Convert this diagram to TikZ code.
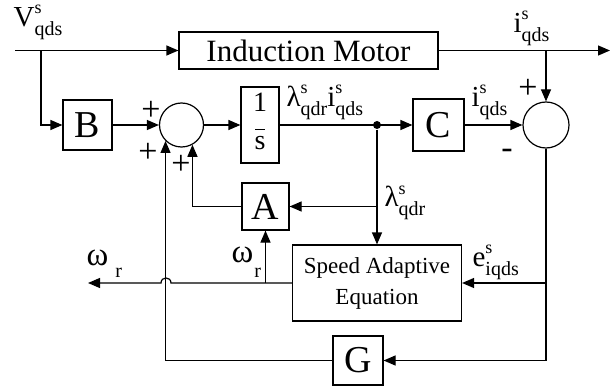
\documentclass[tikz,border=0pt]{standalone}
\usepackage{fontspec}
\setmainfont{Liberation Serif}
\usetikzlibrary{arrows.meta}
\newcommand\supfnt{\fontsize{18}{20}\selectfont}
\newcommand\subfnt{\fontsize{20}{22}\selectfont}
\newcommand\sv[3]{#1\rlap{\raisebox{13pt}{\supfnt #2}}\raisebox{-9pt}{\subfnt #3}}
\begin{document}
\begin{tikzpicture}[x=1pt,y=-1pt,
  line width=1.2pt,
  arr/.style={-{Triangle[length=12pt,width=10pt]}},
  blk/.style={draw,rectangle,inner sep=0pt,font=\fontsize{38}{40}\selectfont},
  sumc/.style={draw,circle,minimum size=44pt,inner sep=0pt},
  lbl/.style={inner sep=0pt,font=\fontsize{29}{32}\selectfont},
  wlbl/.style={inner sep=0pt,font=\fontsize{33}{36}\selectfont},
  sgn/.style={inner sep=0pt,font=\fontsize{34}{36}\selectfont},
  dot/.style={circle,fill,minimum size=8pt,inner sep=0pt}]
\useasboundingbox (0,0) rectangle (610,390);
% blocks
\node[blk,minimum width=259pt,minimum height=37pt,font=\fontsize{31}{34}\selectfont] (motor) at (308.5,50.5) {Induction Motor};
\node[blk,minimum width=49pt,minimum height=50pt] (B) at (87.5,125) {B};
\node[sumc] (sum1) at (181.5,125) {};
\node[blk,minimum width=38pt,minimum height=76pt,font=\fontsize{28}{30}\selectfont] (integ) at (260,125)
  {\begin{tabular}{@{}c@{}}1\\[-12pt]\rule{10pt}{1pt}\\[-10pt]s\end{tabular}};
\node[dot] (d) at (377,125) {};
\node[blk,minimum width=51pt,minimum height=52pt] (C) at (438.5,125) {C};
\node[sumc,minimum size=46pt] (sum2) at (546,125) {};
\node[blk,minimum width=47pt,minimum height=47pt] (A) at (265.5,206.5) {A};
\node[blk,minimum width=169pt,minimum height=76pt,font=\fontsize{23}{31}\selectfont,align=center] (SA) at (377,283) {Speed Adaptive\\Equation};
\node[blk,minimum width=50pt,minimum height=49pt] (G) at (358,360.5) {G};
% coordinates
\coordinate (vin) at (15,50.5);
\coordinate (vb) at (41,50.5);
\coordinate (iout) at (610,50.5);
\coordinate (br) at (546,360.5);
\coordinate (wout) at (88,283);
\coordinate (h1) at (171,283);
\coordinate (h2) at (161,283);
% connectors
\draw[arr] (vin) -- (motor.west);
\draw[arr] (motor.east) -- (iout);
\draw[arr] (vb) |- (B.west);
\draw[arr] (B.east) -- (sum1.west);
\draw[arr] (sum1.east) -- (integ.west);
\draw[arr] (integ.east) -- (C.west);
\draw[arr] (C.east) -- (sum2.west);
\draw[arr] (sum2.north |- motor.east) -- (sum2.north);
\draw[arr] (d) -- (SA.north);
\draw[arr] (d |- A.east) -- (A.east);
\draw[arr] (A.west) -| (sum1.-61.5);
\draw (sum2.south) -- (br);
\draw[arr] (br) -- (G.east);
\draw[arr] (sum2.south |- SA.east) -- (SA.east);
\draw[arr] (G.west) -| (sum1.-135);
\draw[arr] (SA.west) -- (h1) .. controls (171,276.3) and (161,276.3) .. (h2) -- (wout);
\draw[arr] (SA.west -| A.south) -- (A.south);
% labels
\node[lbl,anchor=base west] (lv) at (13,27) {\sv{V}{s}{qds}};
\node[lbl,anchor=base west] (li1) at (513,33) {\sv{i}{s}{qds}};
\node[lbl,anchor=base west] (lli) at (286,107) {\sv{λ}{s}{qdr}\sv{i}{s}{qds}};
\node[lbl,anchor=base west] (li2) at (471,107) {\sv{i}{s}{qds}};
\node[lbl,anchor=base west] (ll) at (384,207) {\sv{λ}{s}{qdr}};
\node[wlbl,anchor=base west] (lw1) at (231,262) {ω\hspace{1pt}\raisebox{-15pt}{\subfnt r}};
\node[wlbl,anchor=base west] (lw2) at (86,265) {ω\hspace{7pt}\raisebox{-12pt}{\subfnt r}};
\node[lbl,anchor=base west] (le) at (472,266) {\sv{e}{s}{iqds}};
% signs
\node[sgn] (p1) at (151,111) {+};
\node[sgn] (p2) at (148,153) {+};
\node[sgn] (p3) at (181,165) {+};
\node[sgn] (p4) at (528,89) {+};
\node[sgn] (m1) at (507,154) {-};
\end{tikzpicture}
\end{document}
